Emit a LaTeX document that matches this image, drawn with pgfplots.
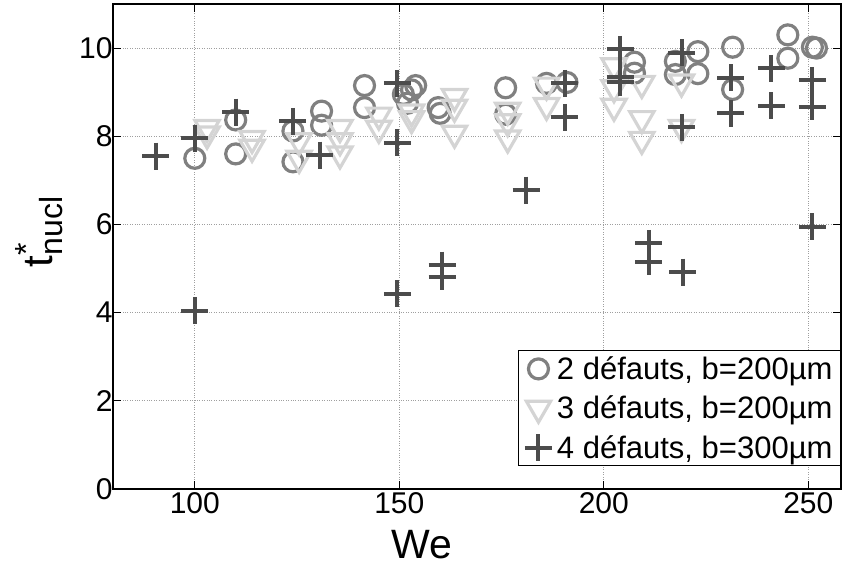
\documentclass[border=0pt]{standalone}
\usepackage{fontspec}
\setmainfont{Liberation Sans}
\usepackage{pgfplots}
\pgfplotsset{compat=1.18}
\usetikzlibrary{calc}
\definecolor{cA}{gray}{0.5}
\definecolor{cB}{gray}{0.83}
\definecolor{cC}{gray}{0.3}
\begin{document}
\begin{tikzpicture}
\begin{axis}[
  scale only axis, width=728pt, height=485pt,
  xmin=80, xmax=258, ymin=0, ymax=11,
  xtick={100,150,200,250}, ytick={0,2,...,10},
  grid=major, grid style={dotted, gray!75, line width=0.7pt},
  axis line style={line width=1.3pt},
  tick style={black, line width=1pt}, tick align=inside, major tick length=8pt,
  /pgf/number format/assume math mode=true,
  ticklabel style={font=\fontsize{30}{36}\selectfont},
  yticklabel style={xshift=3pt},
  xlabel={We},
  xlabel style={font=\fontsize{41}{48}\selectfont, at={(axis description cs:0.424,-0.115)}, anchor=center},
  ylabel={\fontsize{42}{48}\selectfont t\rlap{\raisebox{15pt}{\fontsize{32}{36}\selectfont *}}\raisebox{-10pt}{\fontsize{32}{36}\selectfont nucl}},
  ylabel style={at={(axis description cs:-0.102,0.53)}, anchor=center},
  legend style={at={(axis description cs:1.0,0.047)}, anchor=south east, font=\fontsize{31}{36}\selectfont, draw=black, line width=1pt, inner xsep=6pt, inner ysep=4pt, row sep=11pt, column sep=3pt},
  legend cell align=left,
]
\addplot[only marks, mark=o, color=cA, mark size=10pt, line width=3.2pt] coordinates {
(100,7.5) (110,8.37) (110,7.6) (124,8.12) (124,7.42) (131,8.57) (131,8.25)
(141.5,9.15) (141.5,8.65) (151,8.95) (153,9.05) (154,9.15) (152,8.75)
(159.5,8.65) (160,8.52) (176,9.1) (176,8.5) (186,9.2) (191,9.22)
(207.5,9.68) (207.5,9.43) (217.5,9.7) (217.5,9.4) (223,9.92) (223,9.42)
(231.5,10.02) (231.5,9.06) (245,10.3) (245,9.77) (251,10.02) (252,10.0)
};
\addlegendentry{2 défauts, b=200µm}
\addplot[only marks, mark=triangle, mark options={rotate=180}, color=cB, mark size=14pt, line width=3.2pt] coordinates {
(103,8.2) (103,8.05) (114,7.95) (114,7.75) (125.5,7.9) (125.5,7.5)
(135.5,8.2) (135.5,7.9) (135.5,7.6) (145,8.48) (145,8.18) (153,8.55) (153,8.4)
(163.5,8.9) (163.5,8.66) (163.5,8.07) (176.5,8.59) (176.5,8.33) (176.5,7.96)
(186,9.16) (186,8.7) (202.5,9.6) (202.5,9.1) (202.5,8.68)
(209.3,9.2) (209.3,8.4) (209.3,7.93) (219,9.23) (219,8.2)
};
\addlegendentry{3 défauts, b=200µm}
\addplot[only marks, mark=+, color=cC, mark size=13.5pt, line width=4pt] coordinates {
(90.5,7.55) (100,7.95) (100,4.04) (110,8.55) (124,8.34) (130.5,7.57)
(149.5,9.2) (149.5,7.85) (149.5,4.43) (160.5,5.08) (160.5,4.81) (181,6.78)
(190.5,9.2) (190.5,8.43) (204,9.97) (204,9.35) (204,9.22) (211,5.57) (211,5.15)
(219,9.89) (219,8.2) (219.3,4.92) (231,9.33) (231,8.52) (241,9.54) (241,8.69)
(251,9.27) (251,8.67) (251,5.95)
};
\addlegendentry{4 défauts, b=300µm}
\end{axis}
\pgfresetboundingbox
\path ($(current axis.south west)+(-113pt,-78pt)$) rectangle ($(current axis.north east)+(1pt,4pt)$);
\end{tikzpicture}
\end{document}
